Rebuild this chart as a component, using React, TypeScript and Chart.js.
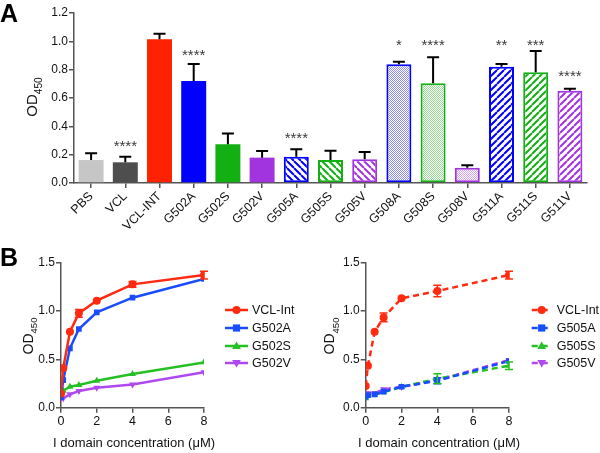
import React, { useEffect, useRef } from "react";
import { Chart, registerables } from "chart.js";
Chart.register(...registerables);

const FONT = "'Liberation Sans', Arial, Helvetica, sans-serif";

// ---------- Panel A data ----------
const barCategories = ["PBS", "VCL", "VCL-INT", "G502A", "G502S", "G502V", "G505A", "G505S", "G505V", "G508A", "G508S", "G508V", "G511A", "G511S", "G511V"];
const barValues = [0.162, 0.146, 1.014, 0.72, 0.273, 0.179, 0.186, 0.162, 0.167, 0.838, 0.704, 0.108, 0.821, 0.781, 0.651];
const barErrors = [0.048, 0.04, 0.04, 0.12, 0.077, 0.047, 0.052, 0.066, 0.052, 0.018, 0.183, 0.017, 0.019, 0.151, 0.015];
const barColors = ["#c6c6c6", "#4e4e4e", "#ff2200", "#0000ff", "#12b012", "#a234e0", "#0000ff", "#12b012", "#a234e0", "#0000ff", "#12b012", "#a234e0", "#0000ff", "#12b012", "#a234e0"];
const barFills = ["solid", "solid", "solid", "solid", "solid", "solid", "back", "back", "back", "dots", "dots", "dots", "fwd", "fwd", "fwd"];
const barStars = ["", "****", "", "****", "", "", "****", "", "", "*", "****", "", "**", "***", "****"];
const starHeights = [0, 0.289, 0, 0.934, 0, 0, 0.344, 0, 0, 1.0, 1.0, 0, 1.0, 1.0, 0.783];
const yTicksA = [0, 0.2, 0.4, 0.6, 0.8, 1.0, 1.2];

// ---------- Panel B data ----------
const concentrations = [0, 0.125, 0.5, 1, 2, 4, 8];
const xTicksB = [0, 2, 4, 6, 8];
const yTicksB = [0, 0.5, 1.0, 1.5];

const leftLabels = ["VCL-Int", "G502A", "G502S", "G502V"];
const vclIntLeft = [0.148, 0.41, 0.786, 0.976, 1.107, 1.276, 1.372];
const vclIntLeftErr = [0.01, 0.01, 0.01, 0.04, 0.01, 0.03, 0.04];
const g502A = [0.11, 0.286, 0.614, 0.814, 0.986, 1.138, 1.331];
const g502AErr = [0.01, 0.01, 0.01, 0.015, 0.01, 0.01, 0.02];
const g502S = [0.15, 0.175, 0.217, 0.234, 0.279, 0.348, 0.469];
const g502SErr = [0.01, 0.01, 0.01, 0.01, 0.01, 0.01, 0.01];
const g502V = [0.1, 0.097, 0.138, 0.172, 0.207, 0.241, 0.366];
const g502VErr = [0.01, 0.01, 0.01, 0.01, 0.01, 0.01, 0.01];

const rightLabels = ["VCL-Int", "G505A", "G505S", "G505V"];
const vclIntRight = [0.224, 0.434, 0.786, 0.934, 1.131, 1.207, 1.372];
const vclIntRightErr = [0.01, 0.01, 0.01, 0.045, 0.01, 0.06, 0.04];
const g505A = [0.114, 0.13, 0.138, 0.166, 0.217, 0.279, 0.483];
const g505AErr = [0.02, 0.01, 0.01, 0.01, 0.01, 0.03, 0.02];
const g505S = [0.097, 0.12, 0.135, 0.16, 0.215, 0.3, 0.434];
const g505SErr = [0.01, 0.01, 0.01, 0.01, 0.01, 0.05, 0.04];
const g505V = [0.148, 0.15, 0.15, 0.19, 0.215, 0.285, 0.493];
const g505VErr = [0.01, 0.01, 0.01, 0.01, 0.01, 0.01, 0.02];

const lineColors = ["#ff2a10", "#1a4cff", "#24c024", "#b048f0"];
const lineStyles = ["circle", "rect", "triangle", "triangle"];
const lineRotations = [0, 0, 0, 180];

// ---------- helpers ----------
function makePattern(kind: string, color: string): CanvasPattern | string {
  if (kind === "solid") return color;
  const c = document.createElement("canvas");
  const s = kind === "dots" ? 4 : 7;
  c.width = s;
  c.height = s;
  const ctx = c.getContext("2d")!;
  ctx.fillStyle = "#ffffff";
  ctx.fillRect(0, 0, s, s);
  if (kind === "dots") {
    ctx.fillStyle = color;
    ctx.globalAlpha = 0.45;
    for (let x = 0; x < s; x++)
      for (let y = 0; y < s; y++) if ((x + y) % 2 === 0) ctx.fillRect(x, y, 1, 1);
  } else {
    ctx.strokeStyle = color;
    ctx.lineWidth = 2;
    ctx.beginPath();
    for (const k of [-s, 0, s]) {
      if (kind === "back") {
        ctx.moveTo(k, 0);
        ctx.lineTo(k + s, s);
      } else {
        ctx.moveTo(k, s);
        ctx.lineTo(k + s, 0);
      }
    }
    ctx.stroke();
  }
  return ctx.createPattern(c, "repeat")!;
}

function drawOD(ctx: CanvasRenderingContext2D, cx: number, cy: number, size: number) {
  ctx.save();
  ctx.translate(cx, cy);
  ctx.rotate(-Math.PI / 2);
  ctx.fillStyle = "#111";
  ctx.textBaseline = "alphabetic";
  ctx.textAlign = "left";
  const sub = size * 0.68;
  ctx.font = `${size}px ${FONT}`;
  const w1 = ctx.measureText("OD").width;
  ctx.font = `${sub}px ${FONT}`;
  const w2 = ctx.measureText("450").width;
  const x0 = -(w1 + w2) / 2;
  const base = size * 0.36;
  ctx.font = `${size}px ${FONT}`;
  ctx.fillText("OD", x0, base);
  ctx.font = `${sub}px ${FONT}`;
  ctx.fillText("450", x0 + w1, base + size * 0.32);
  ctx.restore();
}

function drawMarker(ctx: CanvasRenderingContext2D, style: string, rot: number, x: number, y: number, r: number, color: string) {
  ctx.save();
  ctx.fillStyle = color;
  ctx.translate(x, y);
  ctx.rotate((rot * Math.PI) / 180);
  ctx.beginPath();
  if (style === "circle") ctx.arc(0, 0, r, 0, Math.PI * 2);
  else if (style === "rect") ctx.rect(-r * 0.9, -r * 0.9, r * 1.8, r * 1.8);
  else {
    ctx.moveTo(0, -r * 1.15);
    ctx.lineTo(r * 1.1, r * 0.75);
    ctx.lineTo(-r * 1.1, r * 0.75);
    ctx.closePath();
  }
  ctx.fill();
  ctx.restore();
}

// ---------- Panel A ----------
const A_HEIGHT = 240;
const A_BOTTOM = 183;

function BarPanel() {
  const ref = useRef<HTMLCanvasElement>(null);
  useEffect(() => {
    const canvas = ref.current!;
    const fills = barCategories.map((_, i) => makePattern(barFills[i], barColors[i]));
    const annotate = {
      id: "annotateA",
      afterDatasetsDraw(chart: any) {
        const ctx = chart.ctx as CanvasRenderingContext2D;
        const xs = chart.scales.x;
        const ys = chart.scales.y;
        ctx.save();
        ctx.strokeStyle = "#000";
        ctx.lineWidth = 2;
        barValues.forEach((v, i) => {
          const x = xs.getPixelForValue(i);
          const y0 = ys.getPixelForValue(v);
          const y1 = ys.getPixelForValue(v + barErrors[i]);
          ctx.beginPath();
          ctx.moveTo(x, y0);
          ctx.lineTo(x, y1);
          ctx.moveTo(x - 6, y1);
          ctx.lineTo(x + 6, y1);
          ctx.stroke();
        });
        ctx.fillStyle = "#3a3a3a";
        ctx.font = `15px ${FONT}`;
        ctx.textAlign = "center";
        ctx.textBaseline = "alphabetic";
        barStars.forEach((s, i) => {
          if (!s) return;
          const x = xs.getPixelForValue(i);
          const y = ys.getPixelForValue(starHeights[i]);
          ctx.fillText(s, x, y + 9);
        });
        drawOD(ctx, 32, 97, 15);
        ctx.fillStyle = "#000";
        ctx.font = `bold 25px ${FONT}`;
        ctx.textAlign = "left";
        ctx.fillText("A", 0, 22);
        ctx.restore();
      },
    };
    const chart = new Chart(canvas, {
      type: "bar",
      data: {
        labels: barCategories,
        datasets: [
          {
            data: barValues,
            backgroundColor: fills as any,
            borderColor: barColors,
            borderWidth: barFills.map((f) => (f === "solid" ? 0 : 2)),
            borderSkipped: false,
            barPercentage: 0.73,
            categoryPercentage: 1,
          },
        ],
      },
      options: {
        responsive: false,
        animation: false,
        devicePixelRatio: 1,
        layout: { padding: { top: 13, right: 13, left: 0, bottom: 0 } },
        plugins: { legend: { display: false }, tooltip: { enabled: false } },
        scales: {
          x: {
            afterFit: (s: any) => {
              s.height = A_HEIGHT - A_BOTTOM;
            },
            grid: { display: true, drawOnChartArea: false, drawTicks: true, tickLength: 5, color: "#555", lineWidth: 1.5, offset: false },
            border: { display: true, color: "#555", width: 1.5 },
            ticks: { color: "#111", font: { family: FONT, size: 12.5 }, minRotation: 45, maxRotation: 45, padding: 1, autoSkip: false },
          },
          y: {
            min: 0,
            max: 1.2,
            afterFit: (s: any) => {
              s.width = 74;
            },
            afterBuildTicks: (s: any) => {
              s.ticks = yTicksA.map((v) => ({ value: v }));
            },
            grid: { display: true, drawOnChartArea: false, drawTicks: true, tickLength: 5, color: "#555", lineWidth: 1.5 },
            border: { display: true, color: "#555", width: 1.5 },
            ticks: { color: "#111", font: { family: FONT, size: 12 }, padding: 1, callback: (v: any) => Number(v).toFixed(1) },
          },
        },
      },
      plugins: [annotate],
    });
    return () => chart.destroy();
  }, []);
  return <canvas ref={ref} width={600} height={A_HEIGHT} style={{ position: "absolute", left: 0, top: 0 }} />;
}

// ---------- Panel B ----------
type LineProps = {
  left: number;
  labels: string[];
  series: number[][];
  errors: number[][];
  dashed: boolean;
  areaLeft: number;
  areaRight: number;
  legendLine: [number, number];
  legendText: number;
  odX: number;
  titleX: number;
  showB: boolean;
};

const B_TOP = 240; // canvas top in page

function LinePanel(p: LineProps) {
  const ref = useRef<HTMLCanvasElement>(null);
  useEffect(() => {
    const canvas = ref.current!;
    const W = 300;
    const H = 453 - B_TOP;
    const top = 262.7 - B_TOP;
    const bottom = 407.7 - B_TOP;
    const dash = p.dashed ? [6, 4] : [];
    const datasets = p.series.map((vals, k) => ({
      label: p.labels[k],
      data: concentrations.map((x, i) => ({ x, y: vals[i] })),
      borderColor: lineColors[k],
      backgroundColor: lineColors[k],
      pointStyle: lineStyles[k],
      pointRotation: lineRotations[k],
      pointRadius: 4,
      pointBorderWidth: 0,
      borderWidth: 2.5,
      borderDash: dash,
      tension: 0,
      fill: false,
    }));
    const extra = {
      id: "extraB",
      afterDatasetsDraw(chart: any) {
        const ctx = chart.ctx as CanvasRenderingContext2D;
        const xs = chart.scales.x;
        const ys = chart.scales.y;
        ctx.save();
        ctx.lineWidth = 1.5;
        p.series.forEach((vals, k) => {
          ctx.strokeStyle = lineColors[k];
          vals.forEach((v, i) => {
            const e = p.errors[k][i];
            const x = xs.getPixelForValue(concentrations[i]);
            const y1 = ys.getPixelForValue(v + e);
            const y2 = ys.getPixelForValue(v - e);
            if (Math.abs(y2 - y1) < 4) return;
            ctx.beginPath();
            ctx.moveTo(x, y1);
            ctx.lineTo(x, y2);
            ctx.moveTo(x - 4, y1);
            ctx.lineTo(x + 4, y1);
            ctx.moveTo(x - 4, y2);
            ctx.lineTo(x + 4, y2);
            ctx.stroke();
          });
        });
        // legend
        const rows = [310, 328, 346, 363].map((r) => r - B_TOP);
        p.labels.forEach((lab, k) => {
          const y = rows[k];
          ctx.strokeStyle = lineColors[k];
          ctx.lineWidth = 2.5;
          ctx.setLineDash(dash);
          ctx.beginPath();
          ctx.moveTo(p.legendLine[0], y);
          ctx.lineTo(p.legendLine[1], y);
          ctx.stroke();
          ctx.setLineDash([]);
          drawMarker(ctx, lineStyles[k], lineRotations[k], (p.legendLine[0] + p.legendLine[1]) / 2, y, 4, lineColors[k]);
          ctx.fillStyle = "#111";
          ctx.font = `12.5px ${FONT}`;
          ctx.textAlign = "left";
          ctx.textBaseline = "middle";
          ctx.fillText(lab, p.legendText, y + 0.5);
        });
        drawOD(ctx, p.odX, 336 - B_TOP, 14);
        ctx.fillStyle = "#111";
        ctx.font = `13px ${FONT}`;
        ctx.textAlign = "center";
        ctx.textBaseline = "middle";
        ctx.fillText("I domain concentration (\u03bcM)", p.titleX, 443 - B_TOP);
        if (p.showB) {
          ctx.fillStyle = "#000";
          ctx.font = `bold 25px ${FONT}`;
          ctx.textAlign = "left";
          ctx.textBaseline = "alphabetic";
          ctx.fillText("B", 0, 266 - B_TOP);
        }
        ctx.restore();
      },
    };
    const chart = new Chart(canvas, {
      type: "line",
      data: { datasets: datasets as any },
      options: {
        responsive: false,
        animation: false,
        devicePixelRatio: 1,
        layout: { padding: { top, right: W - p.areaRight, left: 0, bottom: 0 } },
        plugins: { legend: { display: false }, tooltip: { enabled: false } },
        scales: {
          x: {
            type: "linear",
            min: 0,
            max: 8,
            afterFit: (s: any) => {
              s.height = H - bottom;
            },
            afterBuildTicks: (s: any) => {
              s.ticks = xTicksB.map((v) => ({ value: v }));
            },
            grid: { display: true, drawOnChartArea: false, drawTicks: true, tickLength: 5, color: "#555", lineWidth: 1.5 },
            border: { display: true, color: "#555", width: 1.5 },
            ticks: { color: "#111", font: { family: FONT, size: 12.5 }, padding: 1, maxRotation: 0 },
          },
          y: {
            min: 0,
            max: 1.5,
            afterFit: (s: any) => {
              s.width = p.areaLeft;
            },
            afterBuildTicks: (s: any) => {
              s.ticks = yTicksB.map((v) => ({ value: v }));
            },
            grid: { display: true, drawOnChartArea: false, drawTicks: true, tickLength: 5, color: "#555", lineWidth: 1.5 },
            border: { display: true, color: "#555", width: 1.5 },
            ticks: { color: "#111", font: { family: FONT, size: 12 }, padding: 1, callback: (v: any) => Number(v).toFixed(1) },
          },
        },
      },
      plugins: [extra],
    });
    return () => chart.destroy();
  }, []);
  return <canvas ref={ref} width={300} height={453 - B_TOP} style={{ position: "absolute", left: p.left, top: B_TOP }} />;
}

export default function App() {
  return (
    <div style={{ position: "absolute", left: 0, top: 0, width: 600, height: 453, background: "#fff", overflow: "hidden" }}>
      <BarPanel />
      <LinePanel
        left={0}
        labels={leftLabels}
        series={[vclIntLeft, g502A, g502S, g502V]}
        errors={[vclIntLeftErr, g502AErr, g502SErr, g502VErr]}
        dashed={false}
        areaLeft={61}
        areaRight={204}
        legendLine={[225, 248]}
        legendText={252}
        odX={27.5}
        titleX={134}
        showB={true}
      />
      <LinePanel
        left={300}
        labels={rightLabels}
        series={[vclIntRight, g505A, g505S, g505V]}
        errors={[vclIntRightErr, g505AErr, g505SErr, g505VErr]}
        dashed={true}
        areaLeft={65.7}
        areaRight={209}
        legendLine={[231.7, 251.7]}
        legendText={256.7}
        odX={29}
        titleX={139}
        showB={false}
      />
    </div>
  );
}
